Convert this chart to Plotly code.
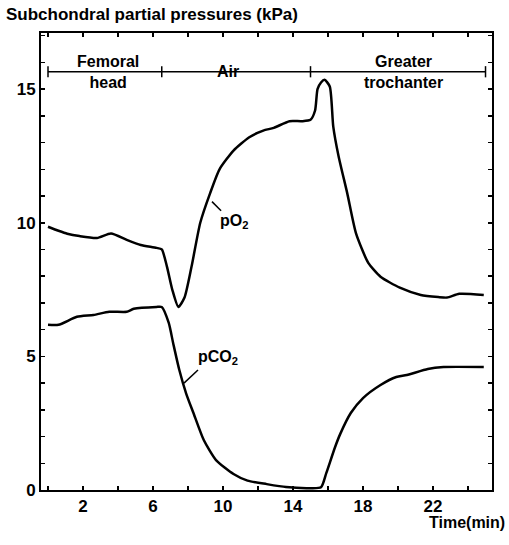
import plotly.graph_objects as go

# pO2 curve (time in min, kPa)
po2_t = [0, 0.6, 1.1, 1.8, 2.8, 3.6, 4.5, 5.3, 6.2, 6.5, 6.8, 7.1, 7.45, 7.8, 8.2, 8.7,
         9.26, 9.8, 10.6, 11.5, 12.3, 12.9, 13.8, 14.5, 15.0, 15.26, 15.4, 15.6, 15.8,
         16.1, 16.3, 16.6, 17.1, 17.6, 18.3, 19.0, 20.1, 21.3, 22.3, 22.8, 23.5, 24.9]
po2_v = [9.85, 9.7, 9.59, 9.5, 9.43, 9.6, 9.36, 9.17, 9.06, 9.0, 8.35, 7.5, 6.85, 7.2, 8.35, 10.0,
         11.1, 12.0, 12.7, 13.2, 13.45, 13.55, 13.8, 13.8, 13.85, 14.2, 15.0, 15.25, 15.35,
         15.1, 13.6, 12.5, 11.1, 9.6, 8.5, 7.98, 7.57, 7.3, 7.22, 7.2, 7.34, 7.3]

# pCO2 curve
pco2_t = [0, 0.6, 1.65, 2.6, 3.5, 4.5, 4.9, 6.2, 6.5, 6.9, 7.15, 7.5, 7.9, 8.3, 8.9, 9.6,
          10.6, 11.4, 12.5, 13.6, 14.8, 15.6, 15.9, 16.4, 16.7, 17.3, 18.0, 19.0, 19.9,
          20.5, 21.7, 22.6, 24.9]
pco2_v = [6.18, 6.18, 6.48, 6.55, 6.67, 6.67, 6.78, 6.85, 6.85, 6.25, 5.5, 4.5, 3.6, 2.9, 1.87, 1.12,
          0.6, 0.35, 0.22, 0.11, 0.07, 0.1, 0.63, 1.6, 2.1, 2.88, 3.44, 3.93, 4.23,
          4.3, 4.53, 4.6, 4.6]

# Phase bracket
phase_bounds = [0, 6.5, 15, 25]
phase_level = 15.65
phase_labels = ["Femoral<br>head", "Air", "Greater<br>trochanter"]
phase_label_x = [3.4, 10.3, 20.3]

# Ticks (labelled), minor ticks every 2 min / 1 kPa
x_tickvals = [2, 6, 10, 14, 18, 22]
y_tickvals = [0, 5, 10, 15]

FONT = "Liberation Sans, Arial, sans-serif"
TXT = dict(family=FONT, size=16, color="black", weight="bold")

fig = go.Figure()
fig.add_trace(go.Scatter(x=po2_t, y=po2_v, mode="lines", hoverinfo="skip",
                         line=dict(color="black", width=2.5, shape="spline", smoothing=0.6)))
fig.add_trace(go.Scatter(x=pco2_t, y=pco2_v, mode="lines", hoverinfo="skip",
                         line=dict(color="black", width=2.5, shape="spline", smoothing=0.6)))
fig.add_trace(go.Scatter(x=phase_bounds, y=[phase_level] * len(phase_bounds), mode="lines+markers",
                         hoverinfo="skip", line=dict(color="black", width=1.5),
                         marker=dict(symbol="line-ns-open", size=8, line=dict(color="black", width=1.5))))

# phase labels
for m, lab in zip(phase_label_x, phase_labels):
    fig.add_annotation(x=m, y=phase_level, text=lab, showarrow=False, yanchor="middle", font=TXT)

# curve labels with leader lines
fig.add_shape(type="line", x0=9.37, y0=10.79, x1=9.89, y1=10.45, line=dict(color="black", width=1.5))
fig.add_annotation(x=10.6, y=10.05, text="pO<sub>2</sub>", showarrow=False, font=TXT)
fig.add_shape(type="line", x0=7.77, y0=4.0, x1=8.57, y1=4.49, line=dict(color="black", width=1.5))
fig.add_annotation(x=9.7, y=4.95, text="pCO<sub>2</sub>", showarrow=False, font=TXT)

fig.add_annotation(x=0.0, y=1.0, xref="paper", yref="paper", xanchor="left", yanchor="middle",
                   text="Subchondral partial pressures (kPa)", showarrow=False,
                   xshift=-37, yshift=19, font=dict(TXT, size=17))
fig.add_annotation(x=1.0, y=0.0, xref="paper", yref="paper", xanchor="right", yanchor="middle",
                   text="Time(min)", showarrow=False, xshift=15, yshift=-32, font=TXT)

axis_common = dict(showgrid=False, zeroline=False, showline=True, linecolor="black", linewidth=2,
                   mirror="allticks", ticks="inside", ticklen=4, tickwidth=1.5, tickcolor="black",
                   tickfont=dict(family=FONT, size=17, color="black", weight="bold"))
fig.update_xaxes(range=[-0.4, 25.37], tickmode="array", tickvals=x_tickvals,
                 minor=dict(ticks="inside", tick0=0, dtick=2, ticklen=4, tickwidth=1.5,
                            tickcolor="black", showgrid=False),
                 **axis_common)
fig.update_yaxes(range=[0, 17.1], tickmode="array", tickvals=y_tickvals,
                 minor=dict(ticks="inside", tick0=0, dtick=1, ticklen=4, tickwidth=1.5,
                            tickcolor="black", showgrid=False),
                 **axis_common)

fig.update_layout(width=509, height=545, margin=dict(l=41, r=17, t=33, b=55, autoexpand=False),
                  plot_bgcolor="white", paper_bgcolor="white", showlegend=False,
                  hovermode=False, font=dict(family=FONT, color="black"))

fig.write_html("out.html", config={"displayModeBar": False, "staticPlot": True},
               post_script="document.body.style.margin='0';document.body.style.overflow='hidden';")
